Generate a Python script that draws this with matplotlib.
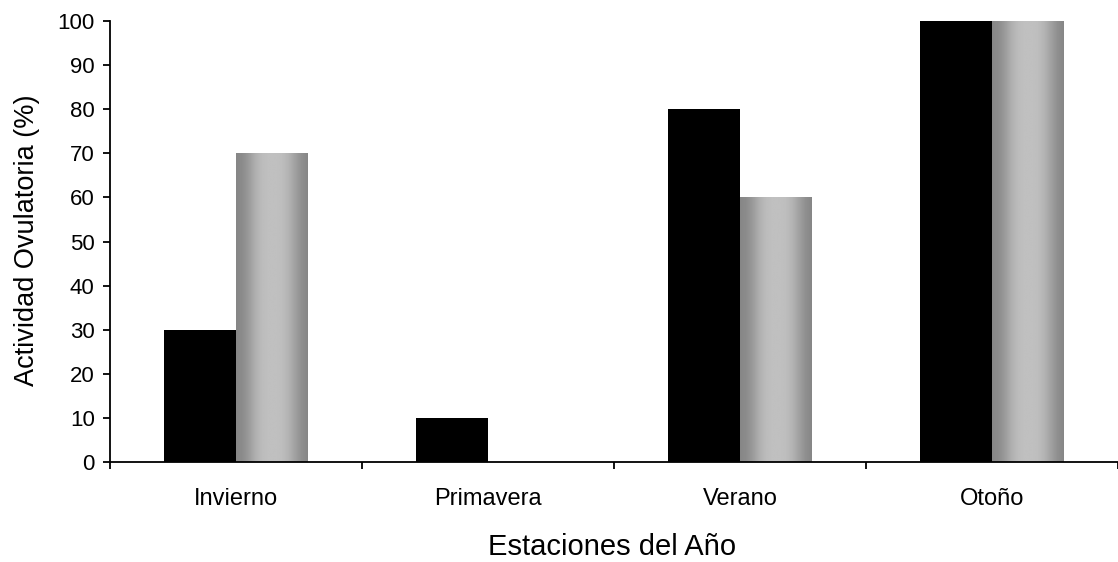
import numpy as np
import matplotlib
matplotlib.use("Agg")
import matplotlib.pyplot as plt

plt.rcParams["font.family"] = ["Liberation Sans", "DejaVu Sans"]

# Actividad ovulatoria por estación (%)
estaciones = ["Invierno", "Primavera", "Verano", "Otoño"]
grupo_negro = [30, 10, 80, 100]
grupo_gris = [70, 0, 60, 100]
yticks = [0, 10, 20, 30, 40, 50, 60, 70, 80, 90, 100]

fig = plt.figure(figsize=(11.18, 5.62), dpi=100)
ax = fig.add_axes([110 / 1118, 1 - 462 / 562, 1008 / 1118, 441 / 562])

x = np.arange(len(estaciones))
w = 0.285

ax.bar(x - w / 2, grupo_negro, width=w, color="black", zorder=2)
gris = ax.bar(x + w / 2, grupo_gris, width=w, color="none", zorder=2)

# cylinder-like shading across each gray bar
perfil = np.array([0x86, 0x8c, 0x9c, 0xb0, 0xbc, 0xc0, 0xc0, 0xbe, 0xb4, 0xa2, 0x90, 0x86]) / 255
grad = np.interp(np.linspace(0, len(perfil) - 1, 200), np.arange(len(perfil)), perfil)
img = np.tile(grad, (2, 1))
for rect in gris:
    h = rect.get_height()
    if h <= 0:
        continue
    x0 = rect.get_x()
    ax.imshow(img, cmap="gray", vmin=0, vmax=1, aspect="auto",
              extent=(x0, x0 + rect.get_width(), 0, h), zorder=2,
              interpolation="bilinear")

ax.set_xlim(-0.5, len(estaciones) - 0.5)
ax.set_ylim(0, 100)

ax.set_yticks(yticks)
ax.tick_params(axis="y", direction="out", length=5, width=1.3, pad=6, labelsize=16)

ax.set_xticks(x)
ax.set_xticklabels(estaciones, fontsize=17)
ax.tick_params(axis="x", which="major", length=0, pad=19)
ax.set_xticks(np.arange(len(estaciones) + 1) - 0.5, minor=True)
ax.tick_params(axis="x", which="minor", direction="out", length=5, width=1.3)

for s in ["top", "right"]:
    ax.spines[s].set_visible(False)
for s in ["left", "bottom"]:
    ax.spines[s].set_linewidth(1.3)
    ax.spines[s].set_zorder(3)

fig.text(27 / 1118, 1 - 240 / 562, "Actividad Ovulatoria (%)", rotation=90,
         ha="center", va="center", fontsize=19.5)
fig.text(612 / 1118, 1 - 547 / 562, "Estaciones del Año",
         ha="center", va="center", fontsize=21)

fig.savefig("out.png", dpi=100)
